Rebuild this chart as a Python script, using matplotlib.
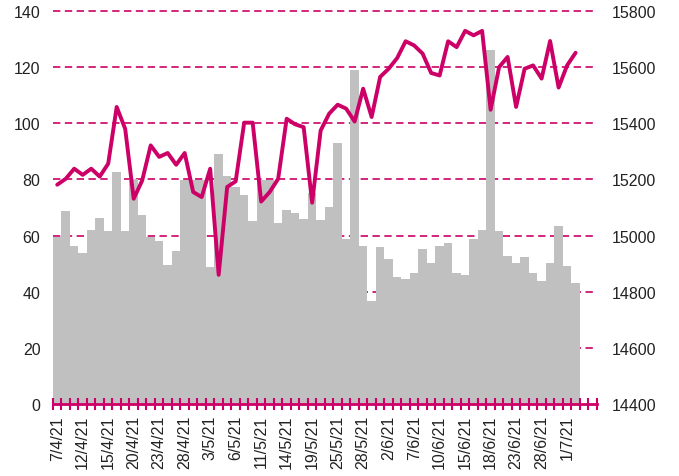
import pandas as pd
import matplotlib
matplotlib.use("Agg")
import matplotlib.pyplot as plt
import numpy as np

plt.rcParams["font.family"] = ["Liberation Sans", "DejaVu Sans"]

# trading days 7/4/21 .. 6/7/21, 24/5 closed (last two days have no data yet)
dates = pd.bdate_range("2021-04-07", "2021-07-06")
dates = dates[dates != pd.Timestamp("2021-05-24")]
date_labels = [f"{d.day}/{d.month}/{d.year % 100}" for d in dates]

# grey bars, left axis
volume = [59.5, 68.6, 56.4, 53.7, 62.1, 66.4, 61.5, 82.8, 61.5, 80.0,
          67.2, 59.5, 58.1, 49.4, 54.4, 79.7, 79.8, 79.8, 48.7, 89.1,
          81.3, 77.2, 74.4, 65.1, 79.9, 79.9, 64.4, 69.2, 68.0, 65.8,
          75.0, 65.7, 70.0, 92.9, 58.8, 119.1, 56.4, 36.6, 55.8, 51.7,
          45.4, 44.4, 46.7, 55.2, 50.1, 56.4, 57.2, 46.7, 46.0, 58.8,
          62.1, 126.1, 61.5, 52.8, 50.1, 52.2, 46.5, 43.7, 50.1, 63.5,
          49.3, 43.0]

# magenta line, right axis
index_level = [15181, 15202, 15238, 15216, 15238, 15210, 15256, 15458, 15380, 15131,
               15196, 15321, 15280, 15294, 15252, 15294, 15155, 15137, 15238, 14860,
               15173, 15193, 15402, 15402, 15121, 15155, 15202, 15416, 15396, 15386,
               15117, 15374, 15434, 15466, 15452, 15406, 15523, 15422, 15565, 15594,
               15632, 15692, 15677, 15648, 15579, 15570, 15692, 15671, 15729, 15713,
               15729, 15448, 15600, 15636, 15458, 15594, 15606, 15559, 15693, 15527,
               15606, 15651]

left_ticks = [0, 20, 40, 60, 80, 100, 120, 140]
right_ticks = [14400, 14600, 14800, 15000, 15200, 15400, 15600, 15800]

MAGENTA = "#CC0066"
GREY = "#C0C0C0"
TEXT = "#222222"

fig = plt.figure(figsize=(6.79, 4.77), dpi=100)
ax = fig.add_axes([0.078, 0.151, 0.801, 0.824])

x = np.arange(len(volume))
ax.bar(x, volume, width=1.0, color=GREY, zorder=1)

# dashed grid behind the bars
for t in left_ticks[1:]:
    ax.axhline(t, color=MAGENTA, lw=1.2, ls=(0, (4.4, 2.7)), zorder=0.5,
               clip_on=False)

ax.set_xlim(-0.5, len(dates) - 0.5)
ax.set_ylim(0, 140)
ax.set_yticks(left_ticks)
ax.tick_params(axis="y", length=0, pad=9, labelsize=11.5, labelcolor=TEXT)

# tick marks on category boundaries, labels every third day
ax.set_xticks(np.arange(len(dates) + 1) - 0.5)
ax.set_xticklabels([])
ax.tick_params(axis="x", which="major", direction="inout", length=8,
               width=1.5, color=MAGENTA)
lab_pos = np.arange(0, len(dates), 3)[:21]
ax.set_xticks(lab_pos, [date_labels[i] for i in lab_pos], minor=True)
ax.tick_params(axis="x", which="minor", length=0, pad=8, labelsize=11.5,
               labelcolor=TEXT, labelrotation=90)

for s in ["top", "left", "right"]:
    ax.spines[s].set_visible(False)
ax.spines["bottom"].set_color(MAGENTA)
ax.spines["bottom"].set_linewidth(2)

ax2 = ax.twinx()
ax2.plot(np.arange(len(index_level)), index_level, color=MAGENTA, lw=2.8,
         solid_joinstyle="round", solid_capstyle="round")
ax2.set_ylim(14400, 15800)
ax2.set_yticks(right_ticks)
ax2.tick_params(axis="y", length=0, pad=11, labelsize=11.5, labelcolor=TEXT)
for s in ["top", "left", "right", "bottom"]:
    ax2.spines[s].set_visible(False)

fig.savefig("out.png", dpi=100)
